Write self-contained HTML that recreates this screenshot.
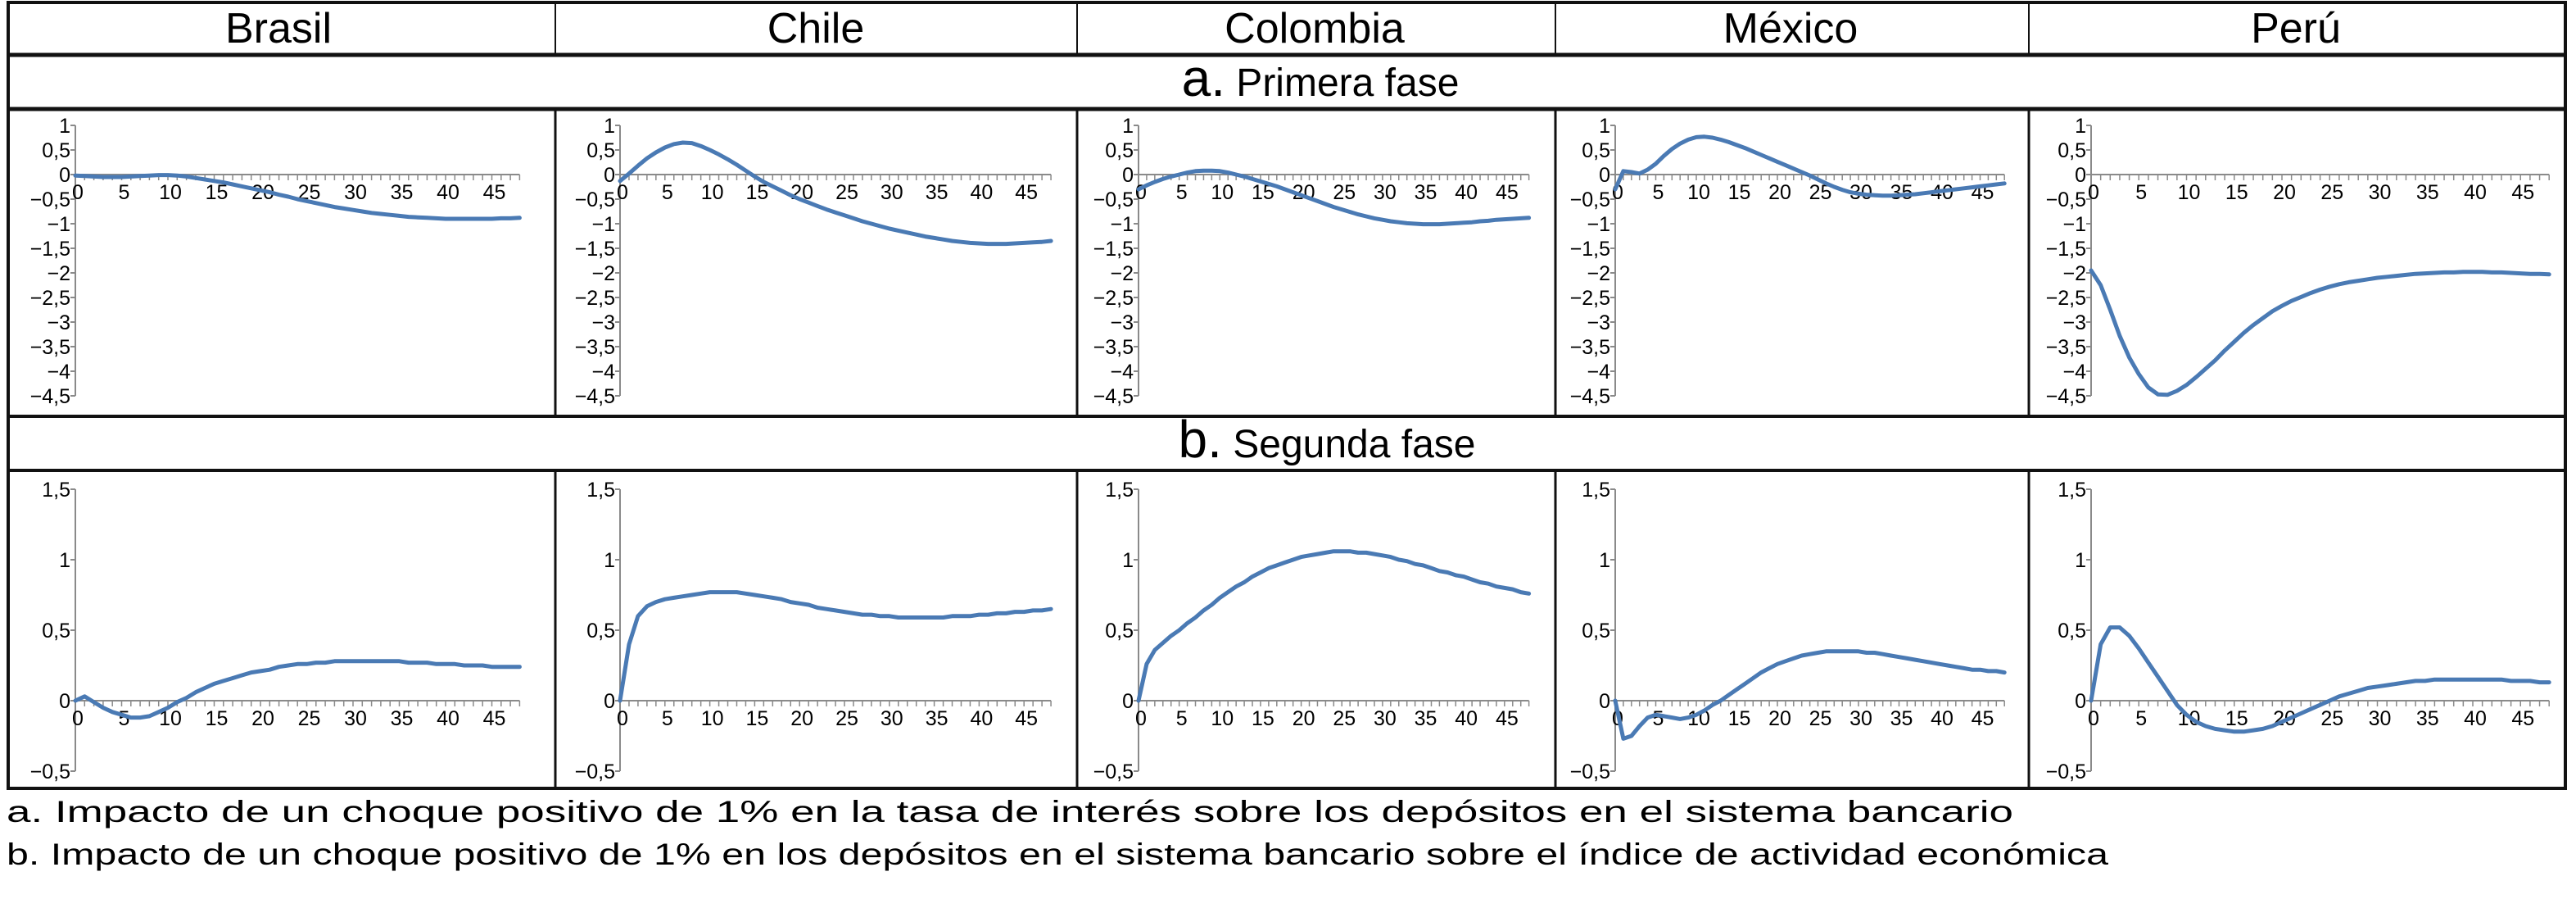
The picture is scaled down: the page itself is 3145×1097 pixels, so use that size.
<!DOCTYPE html>
<html><head><meta charset="utf-8">
<style>
html,body{margin:0;padding:0;background:#fff;}
svg{display:block;}
text{font-family:"Liberation Sans",sans-serif;fill:#000;}
</style></head>
<body>
<svg id="fig" width="3145" height="1097" viewBox="0 0 3145 1097" xmlns="http://www.w3.org/2000/svg">
  <g stroke="#111" fill="none">
    <rect x="10" y="3" width="3122" height="959" stroke-width="4"/>
    <line x1="10" y1="67" x2="3132" y2="67" stroke-width="5"/>
    <line x1="10" y1="133" x2="3132" y2="133" stroke-width="5"/>
    <line x1="10" y1="508" x2="3132" y2="508" stroke-width="4"/>
    <line x1="10" y1="574" x2="3132" y2="574" stroke-width="4"/>
    <line x1="678" y1="3" x2="678" y2="67" stroke-width="2"/>
    <line x1="1315" y1="3" x2="1315" y2="67" stroke-width="2"/>
    <line x1="1899" y1="3" x2="1899" y2="67" stroke-width="2"/>
    <line x1="2477" y1="3" x2="2477" y2="67" stroke-width="2"/>
    <line x1="678" y1="133" x2="678" y2="508" stroke-width="3"/>
    <line x1="1315" y1="133" x2="1315" y2="508" stroke-width="3"/>
    <line x1="1899" y1="133" x2="1899" y2="508" stroke-width="3"/>
    <line x1="2477" y1="133" x2="2477" y2="508" stroke-width="3"/>
    <line x1="678" y1="574" x2="678" y2="962" stroke-width="3"/>
    <line x1="1315" y1="574" x2="1315" y2="962" stroke-width="3"/>
    <line x1="1899" y1="574" x2="1899" y2="962" stroke-width="3"/>
    <line x1="2477" y1="574" x2="2477" y2="962" stroke-width="3"/>
  </g>
  <g font-size="52" text-anchor="middle">
    <text x="340" y="52">Brasil</text>
    <text x="996" y="52">Chile</text>
    <text x="1605" y="52">Colombia</text>
    <text x="2186" y="52">México</text>
    <text x="2803" y="52">Perú</text>
  </g>
  <text x="1612" y="117" text-anchor="middle" font-size="48"><tspan font-size="64">a.</tspan> Primera fase</text>
  <text x="1620" y="558" text-anchor="middle" font-size="48"><tspan font-size="64">b.</tspan> Segunda fase</text>
  <g id="charts"></g>
  <text x="8" y="1003" font-size="37" textLength="2450" lengthAdjust="spacingAndGlyphs">a. Impacto de un choque positivo de 1% en la tasa de interés sobre los depósitos en el sistema bancario</text>
  <text x="8" y="1055" font-size="37" textLength="2566" lengthAdjust="spacingAndGlyphs">b. Impacto de un choque positivo de 1% en los depósitos en el sistema bancario sobre el índice de actividad económica</text>
</svg>
<script>
// ---- data ----
const countries = ["brasil","chile","colombia","mexico","peru"];
const xTickLabels = [0,5,10,15,20,25,30,35,40,45];
const topTickValues = [1,0.5,0,-0.5,-1,-1.5,-2,-2.5,-3,-3.5,-4,-4.5];
const topTickLabels = ["1","0,5","0","\u22120,5","\u22121","\u22121,5","\u22122","\u22122,5","\u22123","\u22123,5","\u22124","\u22124,5"];
const bottomTickValues = [1.5,1,0.5,0,-0.5];
const bottomTickLabels = ["1,5","1","0,5","0","\u22120,5"];

const brasilTop = [-0.02,-0.03,-0.04,-0.05,-0.05,-0.05,-0.04,-0.03,-0.02,-0.01,-0.01,-0.02,-0.04,-0.07,-0.1,-0.13,-0.16,-0.2,-0.24,-0.28,-0.32,-0.36,-0.41,-0.45,-0.5,-0.54,-0.58,-0.62,-0.66,-0.69,-0.72,-0.75,-0.78,-0.8,-0.82,-0.84,-0.86,-0.87,-0.88,-0.89,-0.9,-0.9,-0.9,-0.9,-0.9,-0.9,-0.89,-0.89,-0.88];
const chileTop = [-0.13,0.02,0.18,0.33,0.45,0.55,0.62,0.65,0.64,0.58,0.5,0.41,0.31,0.2,0.08,-0.04,-0.15,-0.24,-0.33,-0.42,-0.5,-0.57,-0.64,-0.71,-0.77,-0.83,-0.89,-0.95,-1.0,-1.05,-1.1,-1.14,-1.18,-1.22,-1.26,-1.29,-1.32,-1.35,-1.37,-1.39,-1.4,-1.41,-1.41,-1.41,-1.4,-1.39,-1.38,-1.37,-1.35];
const colombiaTop = [-0.3,-0.22,-0.15,-0.09,-0.04,0.0,0.04,0.07,0.08,0.08,0.07,0.04,0.0,-0.04,-0.09,-0.14,-0.19,-0.24,-0.3,-0.36,-0.42,-0.48,-0.54,-0.6,-0.66,-0.71,-0.76,-0.81,-0.85,-0.89,-0.92,-0.95,-0.97,-0.99,-1.0,-1.01,-1.01,-1.01,-1.0,-0.99,-0.98,-0.97,-0.95,-0.94,-0.92,-0.91,-0.9,-0.89,-0.88];
const mexicoTop = [-0.3,0.07,0.05,0.02,0.1,0.22,0.38,0.52,0.63,0.71,0.76,0.77,0.75,0.71,0.66,0.6,0.54,0.47,0.4,0.33,0.26,0.19,0.12,0.05,-0.02,-0.1,-0.18,-0.25,-0.31,-0.36,-0.39,-0.41,-0.42,-0.43,-0.43,-0.42,-0.41,-0.4,-0.38,-0.36,-0.34,-0.32,-0.3,-0.28,-0.26,-0.24,-0.22,-0.2,-0.18];
const peruTop = [-1.95,-2.25,-2.75,-3.28,-3.72,-4.06,-4.33,-4.47,-4.48,-4.4,-4.28,-4.12,-3.95,-3.78,-3.58,-3.4,-3.22,-3.06,-2.92,-2.78,-2.67,-2.57,-2.49,-2.41,-2.34,-2.28,-2.23,-2.19,-2.16,-2.13,-2.1,-2.08,-2.06,-2.04,-2.02,-2.01,-2.0,-1.99,-1.99,-1.98,-1.98,-1.98,-1.99,-1.99,-2.0,-2.01,-2.02,-2.02,-2.03];

const brasilBottom = [0,0.03,-0.01,-0.05,-0.08,-0.1,-0.12,-0.12,-0.11,-0.08,-0.05,-0.01,0.02,0.06,0.09,0.12,0.14,0.16,0.18,0.2,0.21,0.22,0.24,0.25,0.26,0.26,0.27,0.27,0.28,0.28,0.28,0.28,0.28,0.28,0.28,0.28,0.27,0.27,0.27,0.26,0.26,0.26,0.25,0.25,0.25,0.24,0.24,0.24,0.24];
const chileBottom = [0,0.4,0.6,0.67,0.7,0.72,0.73,0.74,0.75,0.76,0.77,0.77,0.77,0.77,0.76,0.75,0.74,0.73,0.72,0.7,0.69,0.68,0.66,0.65,0.64,0.63,0.62,0.61,0.61,0.6,0.6,0.59,0.59,0.59,0.59,0.59,0.59,0.6,0.6,0.6,0.61,0.61,0.62,0.62,0.63,0.63,0.64,0.64,0.65];
const colombiaBottom = [0,0.26,0.36,0.41,0.46,0.5,0.55,0.59,0.64,0.68,0.73,0.77,0.81,0.84,0.88,0.91,0.94,0.96,0.98,1.0,1.02,1.03,1.04,1.05,1.06,1.06,1.06,1.05,1.05,1.04,1.03,1.02,1.0,0.99,0.97,0.96,0.94,0.92,0.91,0.89,0.88,0.86,0.84,0.83,0.81,0.8,0.79,0.77,0.76];
const mexicoBottom = [0,-0.27,-0.25,-0.18,-0.12,-0.1,-0.11,-0.12,-0.13,-0.12,-0.1,-0.07,-0.03,0.0,0.04,0.08,0.12,0.16,0.2,0.23,0.26,0.28,0.3,0.32,0.33,0.34,0.35,0.35,0.35,0.35,0.35,0.34,0.34,0.33,0.32,0.31,0.3,0.29,0.28,0.27,0.26,0.25,0.24,0.23,0.22,0.22,0.21,0.21,0.2];
const peruBottom = [0,0.4,0.52,0.52,0.46,0.37,0.27,0.17,0.07,-0.03,-0.1,-0.15,-0.18,-0.2,-0.21,-0.22,-0.22,-0.21,-0.2,-0.18,-0.15,-0.12,-0.09,-0.06,-0.03,0.0,0.03,0.05,0.07,0.09,0.1,0.11,0.12,0.13,0.14,0.14,0.15,0.15,0.15,0.15,0.15,0.15,0.15,0.15,0.14,0.14,0.14,0.13,0.13];

const topSeries = [brasilTop, chileTop, colombiaTop, mexicoTop, peruTop];
const bottomSeries = [brasilBottom, chileBottom, colombiaBottom, mexicoBottom, peruBottom];

// ---- layout ----
const NS = "http://www.w3.org/2000/svg";
const colX0 = [92, 757, 1390, 1972, 2553];
const colPx = [11.3, 10.96, 9.93, 9.9, 11.65];
const xMax = 48;
const topPanel = {y0: 213, pxPerUnit: 60, yTop: 1, yBottom: -4.5};
const bottomPanel = {y0: 855, pxPerUnit: 172, yTop: 1.5, yBottom: -0.5};
const root = document.getElementById("charts");

function mk(tag, attrs, parent){
  const e = document.createElementNS(NS, tag);
  for (const k in attrs) e.setAttribute(k, attrs[k]);
  parent.appendChild(e);
  return e;
}

function drawPanel(ci, panel, series, tickVals, tickLabs, phase){
  const xs = t => colX0[ci] + t * colPx[ci];
  const ys = v => panel.y0 - v * panel.pxPerUnit;
  const g = mk("g", {}, root);
  
  
  const ax = colX0[ci];
  // y axis
  const yAxis = mk("line", {x1: ax, y1: ys(panel.yTop), x2: ax, y2: ys(panel.yBottom), stroke: "#8a8a8a", "stroke-width": 2}, g);
  
  
  for (let i = 0; i < tickVals.length; i++){
    const y = ys(tickVals[i]);
    mk("line", {x1: ax - 6, y1: y, x2: ax, y2: y, stroke: "#8a8a8a", "stroke-width": 2}, g);
    const t = mk("text", {x: ax - 6, y: y + 9, "text-anchor": "end", "font-size": 25}, g);
    
    
    t.textContent = tickLabs[i];
  }
  // x axis
  const xAxis = mk("line", {x1: ax, y1: ys(0), x2: xs(xMax), y2: ys(0), stroke: "#8a8a8a", "stroke-width": 2}, g);
  
  
  for (let t = 0; t <= xMax; t++){
    mk("line", {x1: xs(t), y1: ys(0), x2: xs(t), y2: ys(0) + 7, stroke: "#8a8a8a", "stroke-width": 1.5}, g);
  }
  for (const lab of xTickLabels){
    const tx = mk("text", {x: xs(lab) + 3, y: ys(0) + 30, "text-anchor": "middle", "font-size": 25}, g);
    
    
    tx.textContent = lab;
  }
  // series
  const d = series.map((v, t) => (t ? "L" : "M") + xs(t).toFixed(1) + "," + ys(v).toFixed(1)).join(" ");
  const p = mk("path", {d: d, fill: "none", stroke: "#4a7ab4", "stroke-width": 5, "stroke-linejoin": "round", "stroke-linecap": "round"}, g);
  
  
}

for (let ci = 0; ci < countries.length; ci++){
  drawPanel(ci, topPanel, topSeries[ci], topTickValues, topTickLabels, "primera-fase");
  drawPanel(ci, bottomPanel, bottomSeries[ci], bottomTickValues, bottomTickLabels, "segunda-fase");
}
</script>
</body></html>
